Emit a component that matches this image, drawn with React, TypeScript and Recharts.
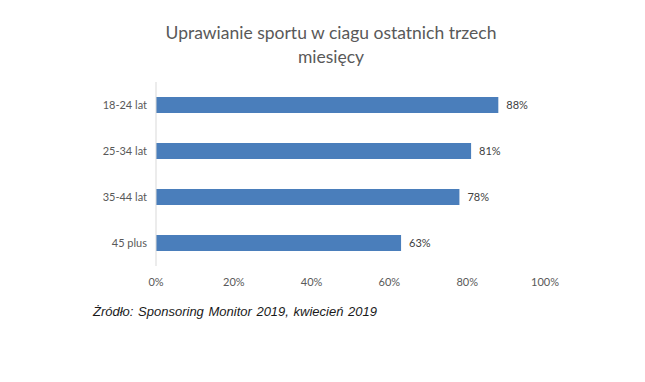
import { BarChart, Bar, XAxis, YAxis, LabelList } from 'recharts';

// grupy wiekowe i odsetek uprawiających sport
const GRUPY = ['18-24 lat', '25-34 lat', '35-44 lat', '45 plus'];
const WARTOSCI = [88, 81, 78, 63];
const TICKI = [0, 20, 40, 60, 80, 100];

const TYTUL = ['Uprawianie sportu w ciagu ostatnich trzech', 'miesięcy'];
const ZRODLO = 'Żródło: Sponsoring Monitor 2019, kwiecień 2019';

const dane = GRUPY.map((grupa, i) => ({ grupa, wartosc: WARTOSCI[i] }));

export default function App() {
    return (
        <div style={{ position: 'absolute', left: 0, top: 0, width: 645, height: 382, background: '#fff' }}>
            {/* tytuł nad wykresem */}
            <div
                style={{
                    position: 'absolute',
                    left: 0,
                    top: 21,
                    width: 662,
                    textAlign: 'center',
                    fontFamily: 'Lato, sans-serif',
                    fontSize: 17.5,
                    lineHeight: '24px',
                    color: '#595959',
                }}
            >
                {TYTUL.map((t) => (
                    <div key={t}>{t}</div>
                ))}
            </div>

            <BarChart
                width={645}
                height={382}
                data={dane}
                layout="vertical"
                margin={{ top: 82, right: 100, bottom: 86, left: 0 }}
                barCategoryGap={15}
            >
                <XAxis
                    type="number"
                    domain={[0, 100]}
                    ticks={TICKI}
                    tickFormatter={(v: number) => `${v}%`}
                    axisLine={false}
                    tickLine={false}
                    tickSize={0}
                    tickMargin={12}
                    height={30}
                    tick={{ fill: '#595959', fontSize: 11, fontFamily: 'Lato, sans-serif' }}
                />
                <YAxis
                    type="category"
                    dataKey="grupa"
                    width={156}
                    axisLine={{ stroke: '#d9d9d9' }}
                    tickLine={false}
                    tickSize={0}
                    tickMargin={9}
                    tick={{ fill: '#595959', fontSize: 11, fontFamily: 'Lato, sans-serif' }}
                />
                <Bar dataKey="wartosc" fill="#4a7ebb" barSize={16} isAnimationActive={false}>
                    <LabelList
                        dataKey="wartosc"
                        position="right"
                        offset={8}
                        formatter={(v: number) => `${v}%`}
                        style={{ fill: '#404040', fontSize: 11, fontFamily: 'Lato, sans-serif' }}
                    />
                </Bar>
            </BarChart>

            {/* źródło danych */}
            <div
                style={{
                    position: 'absolute',
                    left: 93,
                    top: 304,
                    fontFamily: '"Liberation Sans", Arial, sans-serif',
                    fontStyle: 'italic',
                    fontSize: 13,
                    wordSpacing: 1,
                    color: '#1a1a1a',
                }}
            >
                {ZRODLO}
            </div>
        </div>
    );
}
